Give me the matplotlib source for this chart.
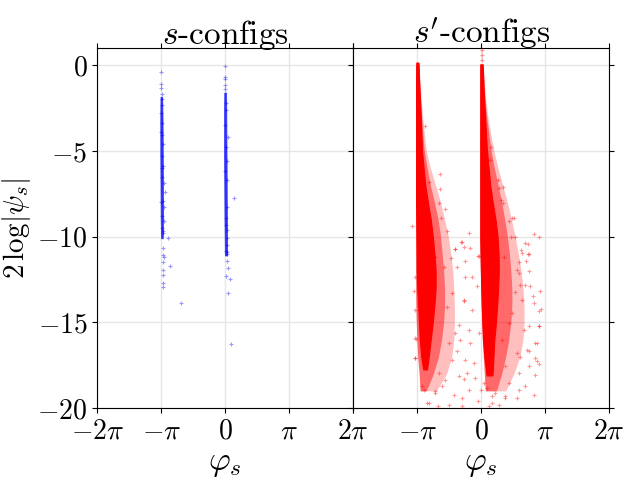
import numpy as np
import matplotlib
matplotlib.use("Agg")
import matplotlib.pyplot as plt

plt.rcParams['font.family'] = 'serif'
plt.rcParams['font.serif'] = ['cmr10', 'DejaVu Serif']
plt.rcParams['mathtext.fontset'] = 'cm'
plt.rcParams['axes.formatter.use_mathtext'] = True

PI = np.pi

# ---------------- s-configs (blue) ----------------
blue_core_L_y = [-1.85, -3.0, -5.0, -7.0, -9.0, -10.1]
blue_core_L_lo = [-3.18, -3.19, -3.19, -3.18, -3.17, -3.15]
blue_core_L_hi = [-3.10, -3.08, -3.07, -3.06, -3.05, -3.07]
blue_core_R_y = [-1.6, -3.0, -5.0, -7.0, -9.0, -11.1]
blue_core_R_lo = [-0.05, -0.06, -0.06, -0.05, -0.04, -0.02]
blue_core_R_hi = [0.04, 0.05, 0.06, 0.07, 0.08, 0.09]

blue_phi = [-3.14, -3.14, -3.14, -3.13, -3.13, -3.12, -3.15, -3.10, -3.13, -3.08,
            -3.12, -3.05, -3.00, -3.10, -2.95, -3.08, -3.03, -3.10, -3.00, -3.12,
            -3.06, -2.83, -3.07, -3.06, -2.99, -3.07, -2.70, -3.04, -3.04, -3.05,
            -3.06, -2.16, -3.16, -3.09, -3.17, -3.08,
            0.00, 0.00, 0.00, 0.01, 0.01, 0.03, 0.15, 0.06, 0.44, -0.02,
            0.04, 0.07, 0.10, 0.08, 0.05, 0.12, 0.07, 0.03, 0.22, 0.11,
            0.27, 0.06, 0.09, 0.02, 0.05, -0.03, 0.08, 0.10, 0.04]
blue_val = [-0.39, -1.11, -1.36, -1.69, -1.95, -2.30, -2.80, -3.40, -4.10, -4.60,
            -5.30, -5.90, -6.89, -6.50, -7.38, -7.90, -8.30, -8.80, -9.10, -9.50,
            -9.80, -10.10, -10.68, -11.07, -11.20, -11.46, -11.70, -11.94, -12.23, -12.71,
            -12.95, -13.88, -3.9, -6.0, -8.0, -9.7,
            -0.04, -0.68, -0.78, -1.15, -1.40, -2.60, -4.20, -5.60, -7.77, -3.5,
            -8.90, -9.60, -10.10, -10.50, -10.87, -11.85, -11.40, -12.29, -12.45, -13.29,
            -16.24, -6.7, -8.3, -4.8, -9.3, -6.2, -10.9, -11.0, -2.2]

# ---------------- s'-configs (red) ----------------
red_core_L_y = [0.15, -1, -2, -3, -4, -5, -6, -7, -8, -9, -10, -11, -12,
                -13, -14, -15, -16, -17, -17.75]
red_core_L_lo = [-3.19, -3.20, -3.20, -3.20, -3.20, -3.20, -3.20, -3.20, -3.20, -3.19,
                 -3.18, -3.17, -3.16, -3.14, -3.10, -3.06, -3.02, -2.95, -2.85]
red_core_L_hi = [-3.08, -3.05, -3.01, -2.97, -2.94, -2.91, -2.83, -2.75, -2.62, -2.48,
                 -2.38, -2.30, -2.24, -2.24, -2.30, -2.38, -2.48, -2.58, -2.66]
red_core_R_y = [0.05, -1, -2, -3, -4, -5, -6, -7, -8, -9, -10, -11, -12,
                -13, -14, -15, -16, -17, -18.1]
red_core_R_lo = [-0.05, -0.05, -0.05, -0.05, -0.05, -0.05, -0.05, -0.05, -0.05, -0.05,
                 -0.05, -0.04, -0.02, 0.00, 0.02, 0.05, 0.08, 0.15, 0.26]
red_core_R_hi = [0.07, 0.10, 0.14, 0.19, 0.23, 0.28, 0.36, 0.44, 0.56, 0.70,
                 0.80, 0.85, 0.86, 0.83, 0.78, 0.72, 0.64, 0.60, 0.55]

red_halo_y = [0.0, -1, -2, -3, -4, -5, -6, -7, -8, -9, -10, -11, -12,
              -13, -14, -15, -16, -17, -18, -19]
red_inner_L_hi = [-3.07, -3.03, -2.98, -2.93, -2.87, -2.80, -2.66, -2.50, -2.30, -2.12,
                  -2.00, -1.92, -1.85, -1.80, -1.80, -1.85, -1.95, -2.10, -2.35, -2.70]
red_outer_L_hi = [-3.06, -3.00, -2.95, -2.88, -2.80, -2.70, -2.50, -2.25, -2.00, -1.80,
                  -1.62, -1.50, -1.40, -1.35, -1.32, -1.32, -1.35, -1.45, -1.70, -2.20]
red_halo_L_lo = [-3.22, -3.22, -3.22, -3.22, -3.22, -3.23, -3.23, -3.23, -3.23, -3.23,
                 -3.23, -3.23, -3.23, -3.22, -3.21, -3.19, -3.16, -3.12, -3.05, -3.00]
red_inner_R_hi = [0.09, 0.13, 0.18, 0.26, 0.37, 0.48, 0.64, 0.82, 1.00, 1.15,
                  1.28, 1.38, 1.45, 1.50, 1.50, 1.45, 1.35, 1.20, 1.00, 0.75]
red_outer_R_hi = [0.10, 0.15, 0.22, 0.32, 0.46, 0.62, 0.82, 1.05, 1.28, 1.48,
                  1.66, 1.82, 1.95, 2.05, 2.10, 2.10, 2.05, 1.90, 1.60, 1.20]
red_halo_R_lo = [-0.06, -0.06, -0.06, -0.06, -0.06, -0.06, -0.06, -0.06, -0.06, -0.06,
                 -0.06, -0.05, -0.04, -0.02, 0.00, 0.03, 0.06, 0.10, 0.15, 0.20]

red_phi = [-2.01, -2.78, -3.40, -0.62, -0.54, -0.95, -1.28, -0.16, 0.49, 0.85,
           1.59, 2.57, 2.85, 2.29, 2.29, 2.16, 2.95, 2.82, 2.73, 2.85,
           2.62, -0.79, -0.46, -0.87, -1.11, -0.70, -1.60, -0.16, 0.36, 0.85,
           -3.27, -3.29, -3.21, -3.24, -0.21, 2.52, 1.64, 2.08, 2.32, 1.83,
           1.34, 0.69, -1.44, -1.11, -2.26, -2.59, -1.93, -0.95, -2.06, -2.83,
           -1.57, -1.28, -1.69, -1.44, -1.85, -2.26, 1.83, 1.51, 1.91, 1.18,
           1.01, 1.34, 1.10, 2.00, 1.47, 0.11, 0.52, 1.18, -2.10, -0.62,
           0.02, 0.02, 0.03,
           -2.58, -2.01, -2.09, -1.76, -1.96, -1.68, -0.98, -1.27, -0.83, -1.47,
           -1.19, -0.82, -0.13,
           0.82, 0.44, 1.05, 0.98, 1.06, 1.51, 1.34, 1.64, 2.13, 1.96,
           2.33, 2.21, 1.87, 2.33, 1.75,
           -0.87, -0.46, -0.13, -0.62, -1.03, -0.54, -1.19, -0.78, -0.37, -0.87,
           -0.29, -1.35, -0.95, -2.66, -2.25, -1.76, -2.91, -3.24, -3.24, -3.27,
           1.92, 2.41, 2.90, 2.82, 2.57, 2.00, 2.33, 2.82, 2.65, 2.25,
           1.75, 2.74, 2.33, 1.83, 2.65, 2.16, 2.57, 1.75, 1.18, 0.52,
           0.28, -0.03]
red_val = [-6.37, -3.55, -9.38, -9.77, -10.68, -10.29, -10.74, -11.13, -4.80, -7.15,
           -8.93, -9.84, -10.00, -10.43, -11.03, -12.82, -14.23, -15.24, -16.21, -17.44,
           -17.09, -12.37, -12.33, -13.69, -15.15, -17.96, -19.81, -19.61, -19.90, -19.81,
           -12.37, -13.20, -15.96, -17.09, -12.91, -13.46, -13.26, -15.44, -16.70, -18.93,
           -18.54, -19.13, -17.18, -18.16, -19.13, -19.71, -18.74, -19.42, -17.96, -18.93,
           -16.21, -15.63, -14.08, -13.30, -11.75, -11.17, -12.14, -14.47, -17.00, -17.57,
           -16.02, -15.05, -11.17, -10.97, -10.00, -18.54, -19.32, -19.32, -19.90, -18.93,
           0.87, 0.58, 0.30,
           -6.83, -7.24, -8.06, -8.41, -8.93, -9.67, -10.33, -10.73, -10.62, -11.26,
           -11.78, -11.45, -11.16,
           -6.70, -5.53, -7.12, -7.86, -8.05, -8.93, -9.07, -10.04, -10.35, -10.77,
           -11.00, -11.40, -11.51, -11.98, -11.94,
           -13.78, -14.31, -15.63, -15.43, -16.02, -16.21, -16.69, -17.18, -17.38, -18.31,
           -18.25, -19.22, -19.90, -19.70, -19.02, -18.35, -18.74, -17.08, -15.92, -14.27,
           -12.81, -12.91, -13.20, -14.36, -13.88, -13.69, -15.24, -15.24, -16.21, -16.60,
           -16.79, -17.28, -17.57, -17.96, -18.06, -18.74, -19.22, -19.42, -19.42, -19.71,
           -18.83, -18.93]

xticks = [-2 * PI, -PI, 0, PI, 2 * PI]
xticklabels_left = [r'$-2\pi$', r'$-\pi$', r'$0$', r'$\pi$', r'$2\pi$']
xticklabels_right = ['', r'$-\pi$', r'$0$', r'$\pi$', r'$2\pi$']
yticks = [0, -5, -10, -15, -20]
yticklabels = [r'$0$', r'$-5$', r'$-10$', r'$-15$', r'$-20$']

fig, axes = plt.subplots(1, 2, sharey=True, figsize=(6.4, 4.8), dpi=100)
fig.subplots_adjust(left=0.152, right=0.952, bottom=0.15, top=0.9, wspace=0)
ax1, ax2 = axes

# blue panel
for ys, lo, hi in [(blue_core_L_y, blue_core_L_lo, blue_core_L_hi),
                   (blue_core_R_y, blue_core_R_lo, blue_core_R_hi)]:
    ax1.fill_betweenx(ys, lo, hi, color='#1010ff', alpha=0.85, lw=0.6,
                      edgecolor='#3030ff', zorder=2)
ax1.plot(blue_phi, blue_val, '+', color='blue', alpha=0.4, ms=3.5, mew=0.8, zorder=3)

# red panel
for lo, hi in [(red_halo_L_lo, red_outer_L_hi), (red_halo_R_lo, red_outer_R_hi)]:
    ax2.fill_betweenx(red_halo_y, lo, hi, color='red', alpha=0.25, lw=0, zorder=2)
for lo, hi in [(red_halo_L_lo, red_inner_L_hi), (red_halo_R_lo, red_inner_R_hi)]:
    ax2.fill_betweenx(red_halo_y, lo, hi, color='red', alpha=0.45, lw=0, zorder=2)
for ys, lo, hi in [(red_core_L_y, red_core_L_lo, red_core_L_hi),
                   (red_core_R_y, red_core_R_lo, red_core_R_hi)]:
    ax2.fill_betweenx(ys, lo, hi, color='red', alpha=1.0, lw=0.8,
                      edgecolor='red', zorder=2)
ax2.plot(red_phi, red_val, '+', color='red', alpha=0.4, ms=3.5, mew=0.8, zorder=3)

for ax, title, xtl in [(ax1, r'$s$-configs', xticklabels_left),
                       (ax2, r"$s'$-configs", xticklabels_right)]:
    ax.set_xlim(-2 * PI, 2 * PI)
    ax.set_ylim(-20, 1.0)
    ax.set_xticks(xticks)
    ax.set_xticklabels(xtl, fontsize=20)
    ax.set_yticks(yticks)
    ax.grid(True, color='#e6e6e6', lw=1.0, zorder=0)
    ax.set_axisbelow(True)
    ax.tick_params(top=True, right=True, direction='out', labelsize=20)
    ax.set_xlabel(r'$\varphi_s$', fontsize=24)
    ax.set_title(title, fontsize=24, pad=3)

ax1.set_yticklabels(yticklabels, fontsize=20)
ax1.set_ylabel(r'$2\,\log|\psi_s|$', fontsize=21)
ax1.yaxis.set_label_coords(-0.25, 0.5)
ax2.tick_params(labelleft=False)

fig.savefig('out.png', dpi=100)
